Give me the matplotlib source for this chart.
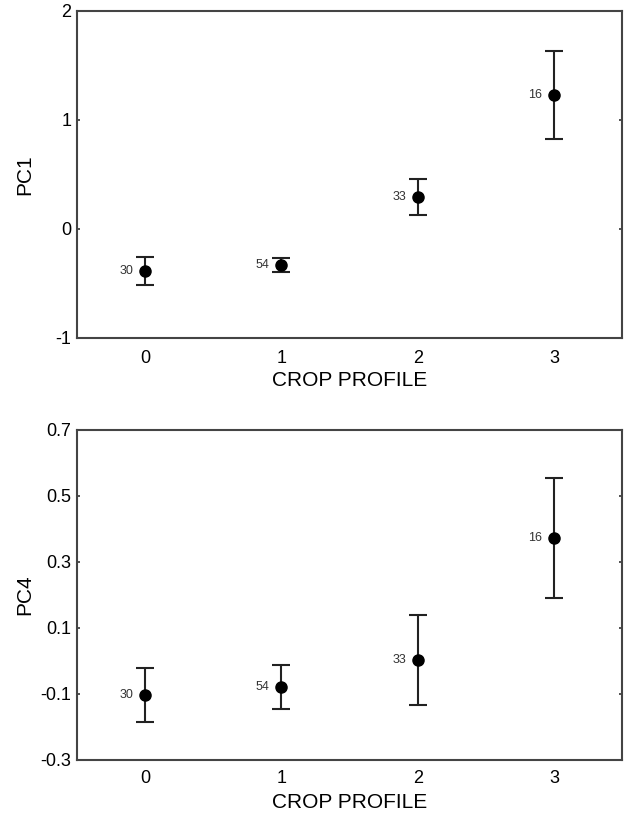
import matplotlib
matplotlib.use("Agg")
import matplotlib.pyplot as plt

plt.rcParams['font.family'] = ['Liberation Sans', 'DejaVu Sans']

crop_profile = [0, 1, 2, 3]
n_labels = ["30", "54", "33", "16"]

pc1_mean = [-0.384, -0.332, 0.297, 1.232]
pc1_err = [0.131, 0.062, 0.166, 0.402]

pc4_mean = [-0.103, -0.078, 0.004, 0.373]
pc4_err = [0.082, 0.067, 0.136, 0.181]

pc1_ticks = [-1, 0, 1, 2]
pc1_ticklabels = ["-1", "0", "1", "2"]
pc4_ticks = [-0.3, -0.1, 0.1, 0.3, 0.5, 0.7]
pc4_ticklabels = ["-0.3", "-0.1", "0.1", "0.3", "0.5", "0.7"]

W, H = 625, 814
fig = plt.figure(figsize=(W / 100, H / 100), dpi=100)

def px_axes(left, top, right, bottom):
    return fig.add_axes([left / W, 1 - bottom / H, (right - left) / W, (bottom - top) / H])

ax1 = px_axes(77, 11, 622, 338)
ax2 = px_axes(77, 430, 622, 760)

def draw(ax, mean, err, ticks, ticklabels, ylim, ylabel, xlab_y, xpad):
    ax.errorbar(crop_profile, mean, yerr=err, fmt='o', color='black',
                markersize=8, capsize=6.5, elinewidth=1.5, capthick=1.5,
                ecolor='#222222')
    for x, y, lab in zip(crop_profile, mean, n_labels):
        ax.annotate(lab, (x, y), xytext=(-8.5, 0), textcoords='offset points',
                    ha='right', va='center', fontsize=9, color='#333333')
    ax.set_xlim(-0.5, 3.5)
    ax.set_ylim(*ylim)
    ax.set_xticks(crop_profile)
    ax.set_xticklabels([str(c) for c in crop_profile])
    ax.set_yticks(ticks)
    ax.set_yticklabels(ticklabels)
    ax.tick_params(axis='y', direction='in', length=2.5, width=1.2, left=True,
                   right=True, labelsize=13, pad=4, color='#333333')
    ax.tick_params(axis='x', direction='in', length=0, labelsize=13, pad=xpad)
    ax.set_xlabel("CROP PROFILE", fontsize=15)
    ax.set_ylabel(ylabel, fontsize=15)
    ax.xaxis.set_label_coords(0.5, xlab_y)
    ax.yaxis.set_label_coords(-0.078, 0.5)
    for s in ax.spines.values():
        s.set_color('#444444')
        s.set_linewidth(1.5)

draw(ax1, pc1_mean, pc1_err, pc1_ticks, pc1_ticklabels, (-1, 2), "PC1", -0.102, 9)
draw(ax2, pc4_mean, pc4_err, pc4_ticks, pc4_ticklabels, (-0.3, 0.7), "PC4", -0.101, 7.5)

fig.savefig("out.png", dpi=100)
